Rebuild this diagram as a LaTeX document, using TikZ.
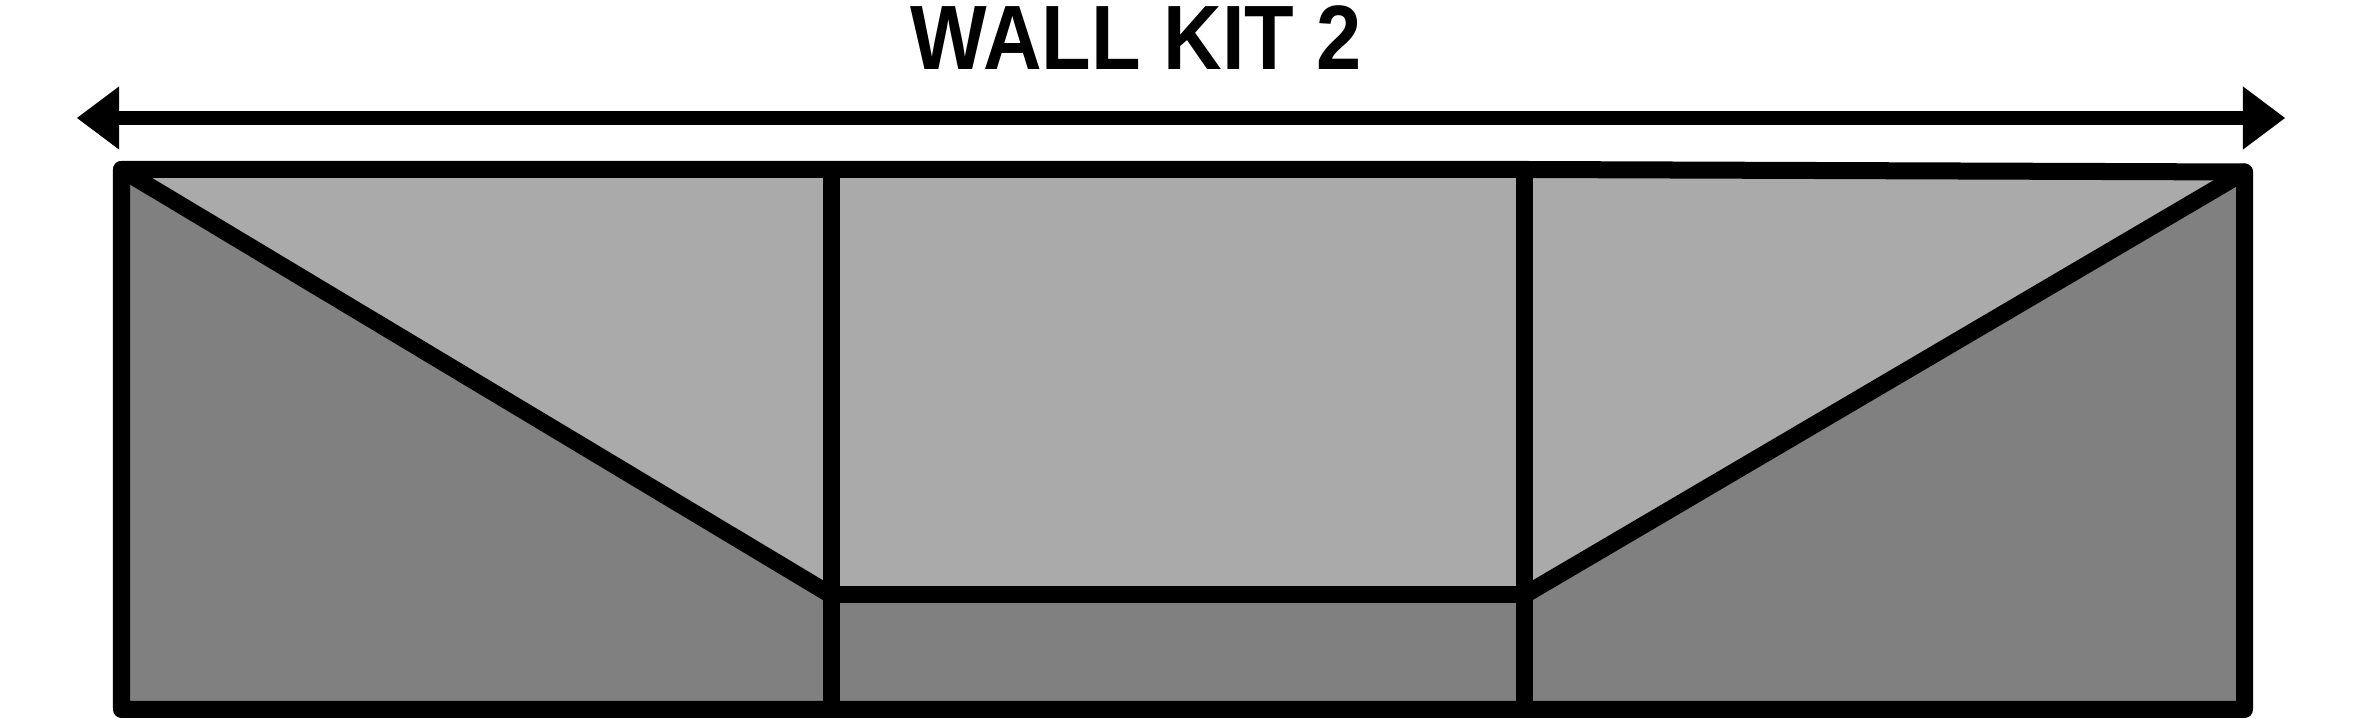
\documentclass[tikz,border=0pt]{standalone}
\usepackage{fontspec}
\setmainfont{Liberation Sans}
\usetikzlibrary{arrows.meta}
\definecolor{lightfill}{HTML}{AAAAAA}
\definecolor{darkfill}{HTML}{808080}
\tikzset{
  wall/.style={line width=1.7mm, line join=round, line cap=round, black},
  dimarrow/.style={line width=1.4mm, black, {Triangle[length=4.2mm, width=6.3mm, line width=0pt]}-{Triangle[length=4.2mm, width=6.3mm, line width=0pt]}},
  titletext/.style={inner sep=0pt, anchor=base, font=\bfseries\fontsize{26}{30}\selectfont}
}
\begin{document}
\begin{tikzpicture}[x=0.01cm, y=-0.01cm]
\useasboundingbox (0,0) rectangle (2362,719);
% corners and junctions
\coordinate (TL) at (121.5,169.5);
\coordinate (TM1) at (831,169.5);
\coordinate (TM2) at (1524.5,169.5);
\coordinate (TR) at (2244.5,172);
\coordinate (BL) at (121.5,709.5);
\coordinate (BM1) at (831,709.5);
\coordinate (BM2) at (1524.5,709.5);
\coordinate (BR) at (2244.5,709.5);
\coordinate (J1) at (831,595);
\coordinate (J2) at (1524.5,595);
\coordinate (aL) at (77,118);
\coordinate (aR) at (2285,118);
% fills
\fill[darkfill] (TL) -- (TM2) -- (TR) -- (BR) -- (BL) -- cycle;
\fill[lightfill] (TL) -- (TM2) -- (TR) -- (J2) -- (J1) -- cycle;
% lines
\draw[wall] (TL) -- (J1);
\draw[wall] (TR) -- (J2);
\draw[wall] (J1) -- (J2);
\draw[wall] (TM1) -- (BM1);
\draw[wall] (TM2) -- (BM2);
\draw[wall] (TL) -- (TM2) -- (TR) -- (BR) -- (BL) -- cycle;
% dimension arrow
\draw[dimarrow] (aL) -- (aR);
% title
\node[titletext] (title) at (1136.5,70) {\scalebox{0.888}[1]{WALL KIT 2}};
\end{tikzpicture}
\end{document}
